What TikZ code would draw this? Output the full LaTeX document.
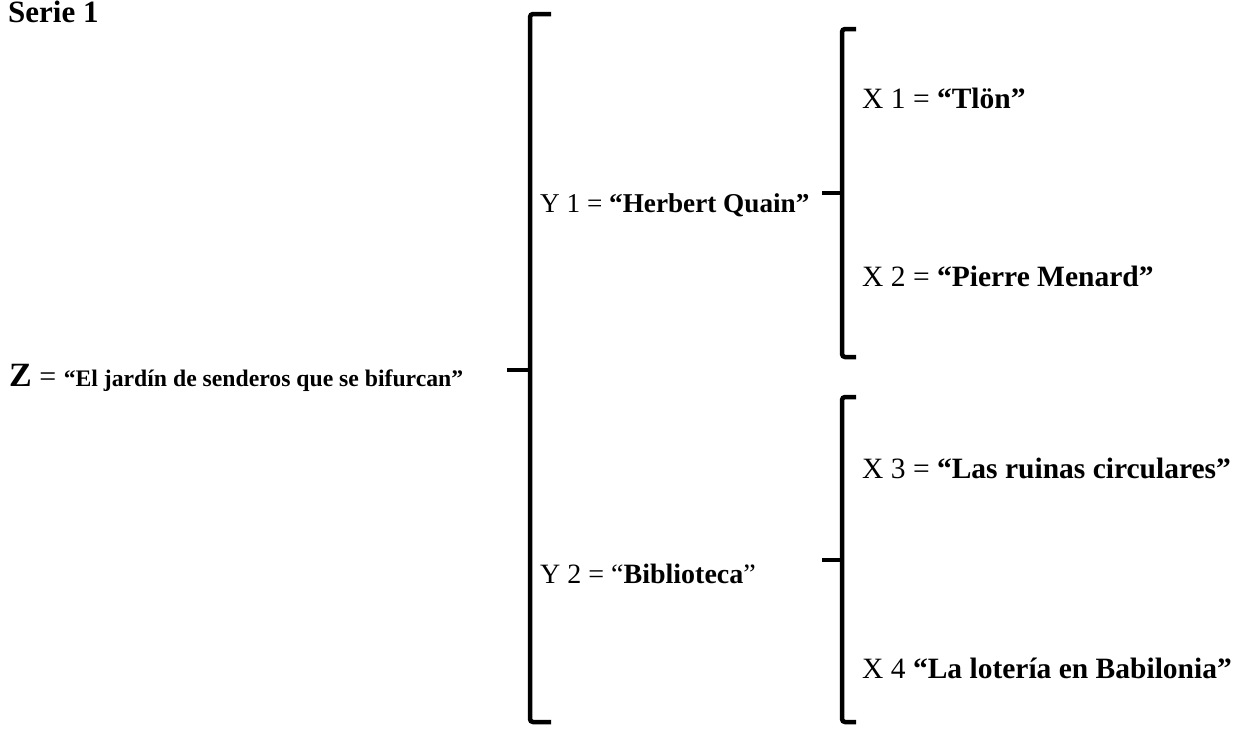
\documentclass[tikz,border=0pt]{standalone}
\usepackage{fontspec}
\setmainfont{Liberation Serif}
\begin{document}
\begin{tikzpicture}[x=1pt,y=-1pt,
  ylbl/.style={anchor=base west, inner sep=0pt, font=\fontsize{28}{30}\selectfont},
  xlbl/.style={anchor=base west, inner sep=0pt, font=\fontsize{29.5}{32}\selectfont},
  brk/.style={line width=4.5pt, rounded corners=3pt},
  tick/.style={line width=4.5pt}]
\useasboundingbox (0,0) rectangle (1239,729);

% title
\node[anchor=base west, inner sep=0pt, font=\fontsize{31}{34}\selectfont\bfseries] (title) at (8,22) {Serie 1};

% root
\node[anchor=base west, inner sep=0pt, font=\fontsize{30}{32}\selectfont] (z) at (9,386)
  {{\fontsize{34}{36}\selectfont\bfseries Z} = {\fontsize{23.7}{26}\selectfont\bfseries “El jardín de senderos que se bifurcan”}};

% second level
\node[ylbl, font=\fontsize{27.2}{30}\selectfont] (y1) at (540,212) {Y 1 = \textbf{“Herbert Quain”}};
\node[ylbl] (y2) at (540,583) {Y 2 = “\textbf{Biblioteca}”};

% leaves
\node[xlbl] (x1) at (862,108) {X 1 = \textbf{“Tlön”}};
\node[xlbl] (x2) at (862,286) {X 2 = \textbf{“Pierre Menard”}};
\node[xlbl] (x3) at (862,478) {X 3 = \textbf{“Las ruinas circulares”}};
\node[xlbl] (x4) at (862,678) {X 4 \textbf{“La lotería en Babilonia”}};

% braces
\coordinate (bz) at (507,370);
\draw[brk] (551,14) -- (530,14) -- (530,722) -- (551,722);
\draw[tick] (bz) -- (530,370);

\coordinate (by1) at (822,193);
\draw[brk] (856,29) -- (842,29) -- (842,357) -- (856,357);
\draw[tick] (by1) -- (842,193);

\coordinate (by2) at (822,560);
\draw[brk] (856,397) -- (842,397) -- (842,722) -- (856,722);
\draw[tick] (by2) -- (842,560);
\end{tikzpicture}
\end{document}
